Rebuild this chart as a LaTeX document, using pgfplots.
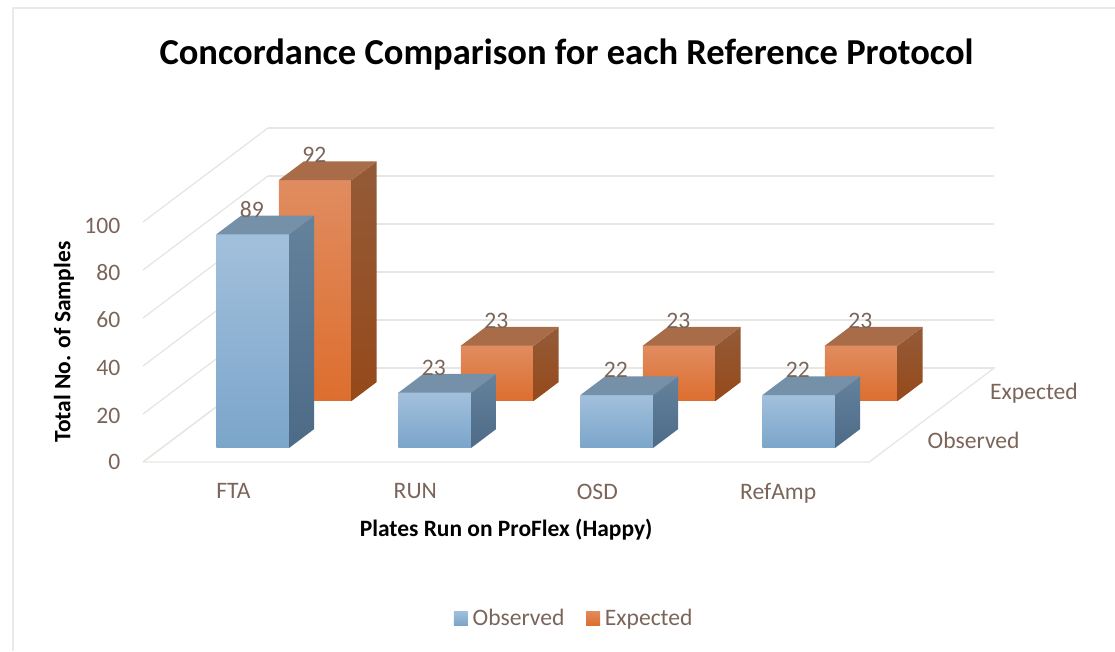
\documentclass[border=0pt]{standalone}
\usepackage{pgfplots}
\pgfplotsset{compat=1.18}
\usepackage{fontspec}
\setmainfont{Carlito}
\definecolor{txt}{HTML}{7B655A}
\definecolor{gridc}{HTML}{E8E6E3}
\definecolor{framec}{HTML}{ECE9E6}
\definecolor{bft}{HTML}{A2C0DC}
\definecolor{bfb}{HTML}{7BA5CA}
\definecolor{bst}{HTML}{64829C}
\definecolor{bsb}{HTML}{4D6B87}
\definecolor{btp}{HTML}{7590A9}
\definecolor{oft}{HTML}{E08C60}
\definecolor{ofm}{HTML}{E67C3A}
\definecolor{ofb}{HTML}{DD6E2E}
\definecolor{ost}{HTML}{945B38}
\definecolor{osb}{HTML}{95491A}
\definecolor{otp}{HTML}{A86C49}
\def\px{0.75pt}
% #1 x left, #2 y front, #3 value, #4 front shading, #5 side shading, #6 top colour
\newcommand{\boxbar}[6]{%
 \pgfmathsetmacro{\xa}{#1}\pgfmathsetmacro{\xb}{#1+0.4}%
 \pgfmathsetmacro{\ya}{#2}\pgfmathsetmacro{\yb}{#2+0.4}%
 \edef\temp{\noexpand\addplot3[forget plot,draw=none,#4] coordinates {(\xa,\ya,0)(\xb,\ya,0)(\xb,\ya,#3)(\xa,\ya,#3)} -- cycle;
 \noexpand\addplot3[forget plot,draw=none,#5] coordinates {(\xb,\ya,0)(\xb,\yb,0)(\xb,\yb,#3)(\xb,\ya,#3)} -- cycle;
 \noexpand\addplot3[forget plot,draw=none,fill=#6] coordinates {(\xa,\ya,#3)(\xb,\ya,#3)(\xb,\yb,#3)(\xa,\yb,#3)} -- cycle;}%
 \temp}
\tikzset{
 bfront/.style={top color=bft,bottom color=bfb},
 bside/.style={top color=bst,bottom color=bsb},
 ofront/.style={top color=oft,middle color=ofm,bottom color=ofb},
 oside/.style={top color=ost,bottom color=osb}}
\pgfplotsset{swatch/.style={legend image code/.code={%
 \path[##1,draw=none] (0pt,-5.25pt) rectangle (10.5pt,5.25pt);}}}
\begin{document}
\begin{tikzpicture}[x=\px,y=\px]
\path[use as bounding box] (0,0) rectangle (1115,-651);
\draw[framec,line width=1.5pt] (13,-651) -- (13,-8) -- (1115,-8);
\coordinate (O) at (143,-462);
\begin{axis}[
 at={(O)},anchor=origin,
 x={(182*\px,0)},y={(62.5*\px,47*\px)},z={(0,2.4*\px)},
 xmin=0,xmax=3.99,ymin=0,ymax=2,zmin=0,zmax=100,
 clip=false,
 axis line style={draw=none},
 major tick length=0pt,
 xtick={0.5,1.5,2.5,3.5},xticklabels={FTA,RUN,OSD,RefAmp},
 ytick=\empty,
 ztick={0,20,...,100},
 xmajorgrids=false,ymajorgrids=false,zmajorgrids=true,
 grid style={gridc,line width=1pt},
 ticklabel style={text=txt,font=\fontsize{17.7pt}{20pt}\selectfont},
 x tick label style={xshift=5.5*\px,yshift=-17*\px},
 z tick label style={xshift=-18*\px,yshift=3.5*\px},
 /pgf/number format/assume math mode=true,
 ztick pos=left,
 title={Concordance Comparison for each Reference Protocol},
 title style={font=\bfseries\fontsize{27.4pt}{32pt}\selectfont,text=black,
  at={(rel axis cs:0.5,1,1)},anchor=center,xshift=-64.5*\px,yshift=65*\px},
 xlabel={Plates Run on ProFlex (Happy)},
 zlabel={Total No. of Samples},
 label style={font=\bfseries\fontsize{17.6pt}{20pt}\selectfont,text=black},
 xlabel style={at={(rel axis cs:0.5,0,0)},anchor=center,yshift=-68*\px},
 zlabel style={at={(rel axis cs:0,0,0.5)},anchor=center,yshift=79*\px},
 legend columns=2,
 legend style={at={(rel axis cs:0.5,0,0)},anchor=center,xshift=68.5*\px,yshift=-156*\px,
  draw=none,fill=none,font=\fontsize{17.7pt}{20pt}\selectfont,text=txt,
  /tikz/every odd column/.append style={column sep=2*\px},
  /tikz/every even column/.append style={column sep=19*\px}},
 legend cell align=left,
]
\addplot3[gridc,line width=1pt,forget plot] coordinates {(0,0,0)(3.99,0,0)(3.99,2,0)(0,2,0)(0,0,0)};
% Expected row
\boxbar{0.3}{1.3}{92}{ofront}{oside}{otp}
\boxbar{1.3}{1.3}{23}{ofront}{oside}{otp}
\boxbar{2.3}{1.3}{23}{ofront}{oside}{otp}
\boxbar{3.3}{1.3}{23}{ofront}{oside}{otp}
% Observed row
\boxbar{0.3}{0.3}{89}{bfront}{bside}{btp}
\boxbar{1.3}{0.3}{23}{bfront}{bside}{btp}
\boxbar{2.3}{0.3}{22}{bfront}{bside}{btp}
\boxbar{3.3}{0.3}{22}{bfront}{bside}{btp}
% value labels
\addplot3[forget plot,draw=none,mark=none,point meta=z,nodes near coords,
 nodes near coords align={anchor=center},
 every node near coord/.append style={xshift=-1*\px,yshift=25*\px,text=txt,font=\fontsize{17.7pt}{20pt}\selectfont,/pgf/number format/assume math mode=true}]
 coordinates {(0.5,1.3,92)(1.5,1.3,23)(2.5,1.3,23)(3.5,1.3,23)(0.5,0.3,89)(1.5,0.3,23)(2.5,0.3,22)(3.5,0.3,22)};
% depth axis category names
\addplot3[forget plot,draw=none,mark=none,point meta=explicit symbolic,nodes near coords,
 nodes near coords align={anchor=west},
 every node near coord/.append style={xshift=27*\px,yshift=-1.5*\px,inner sep=0pt,text=txt,font=\fontsize{17.7pt}{20pt}\selectfont}]
 coordinates {(3.99,0.5,0)[Observed] (3.99,1.5,0)[Expected]};
\addlegendimage{swatch,top color=bft,bottom color=bfb}
\addlegendentry{Observed}
\addlegendimage{swatch,top color=oft,bottom color=ofb}
\addlegendentry{Expected}
\end{axis}
\end{tikzpicture}
\end{document}
